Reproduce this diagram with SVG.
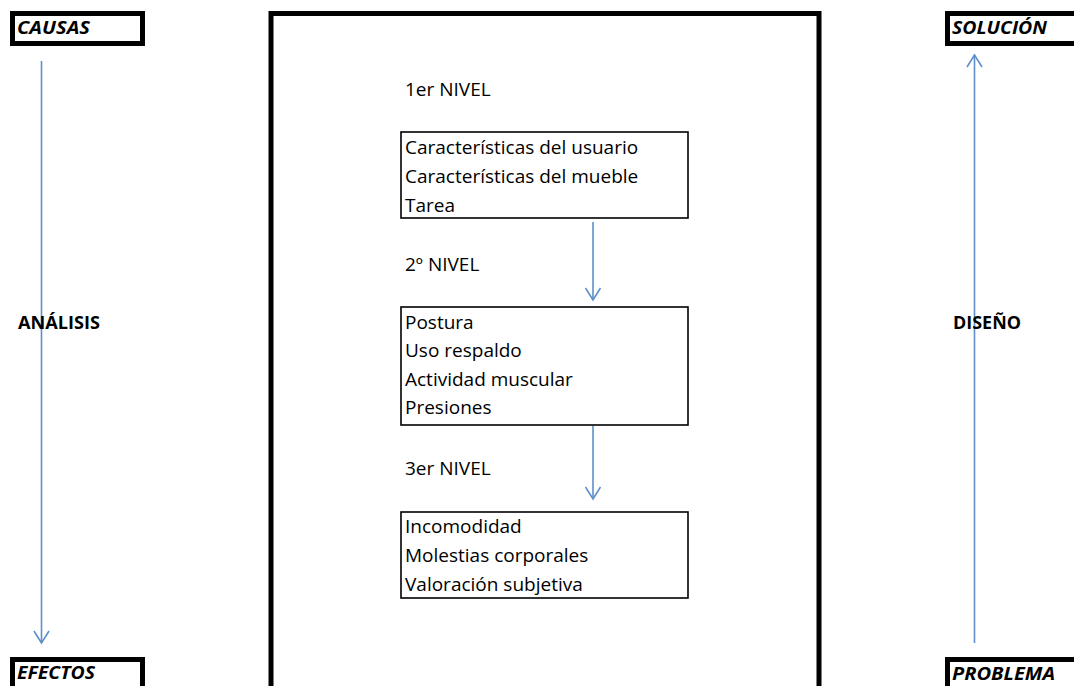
<svg xmlns="http://www.w3.org/2000/svg" width="1074" height="686" viewBox="0 0 1074 686">
  <style>
    .frame { fill: #ffffff; stroke: #000000; stroke-width: 5; }
    .box { fill: #ffffff; stroke: #000000; stroke-width: 1.6; }
    .tag { font-family: "Open Sans", "Liberation Sans", sans-serif; font-size: 18px; font-weight: bold; font-style: italic; fill: #000000; }
    .phase { font-family: "Open Sans", "Liberation Sans", sans-serif; font-size: 18px; font-weight: bold; fill: #000000; }
    .txt { font-family: "Open Sans", "Liberation Sans", sans-serif; font-size: 19px; fill: #000000; }
    .flow { fill: none; stroke: #5f8fcb; stroke-width: 1.6; }
  </style>
  <defs>
    <marker id="chevron" markerUnits="userSpaceOnUse" markerWidth="16" markerHeight="18" refX="13" refY="8" orient="auto" overflow="visible">
      <path d="M1,0.5 L13,8 L1,15.5" fill="none" stroke="#5f8fcb" stroke-width="1.6"/>
    </marker>
  </defs>

  <rect width="1074" height="686" fill="#ffffff"/>

  <!-- central frame -->
  <g id="frame">
    <rect class="frame" x="271" y="13.5" width="548" height="700"/>
  </g>

  <!-- corner labels -->
  <g id="causas">
    <rect class="frame" x="12.5" y="13.5" width="130" height="30"/>
    <text class="tag" x="17" y="34" textLength="73" lengthAdjust="spacingAndGlyphs">CAUSAS</text>
  </g>
  <g id="solucion">
    <rect class="frame" x="947.5" y="13.5" width="140" height="30"/>
    <text class="tag" x="952" y="34" textLength="95" lengthAdjust="spacingAndGlyphs">SOLUCIÓN</text>
  </g>
  <g id="efectos">
    <rect class="frame" x="12.5" y="659.5" width="130" height="40"/>
    <text class="tag" x="17" y="679" textLength="78" lengthAdjust="spacingAndGlyphs">EFECTOS</text>
  </g>
  <g id="problema">
    <rect class="frame" x="947.5" y="659.5" width="140" height="40"/>
    <text class="tag" x="952" y="680" textLength="103" lengthAdjust="spacingAndGlyphs">PROBLEMA</text>
  </g>

  <!-- flow connectors -->
  <g id="connectors">
    <line class="flow" x1="41.5" y1="61" x2="41.5" y2="643" marker-end="url(#chevron)"/>
    <line class="flow" x1="974.5" y1="643" x2="974.5" y2="55" marker-end="url(#chevron)"/>
    <line class="flow" x1="593" y1="222" x2="593" y2="300" marker-end="url(#chevron)"/>
    <line class="flow" x1="593" y1="426" x2="593" y2="499" marker-end="url(#chevron)"/>
  </g>

  <!-- phase labels -->
  <g id="analisis">
    <text class="phase" x="18" y="329" textLength="82" lengthAdjust="spacingAndGlyphs">ANÁLISIS</text>
  </g>
  <g id="diseno">
    <text class="phase" x="953" y="329" textLength="68" lengthAdjust="spacingAndGlyphs">DISEÑO</text>
  </g>

  <!-- level 1 -->
  <g id="nivel1">
    <text class="txt" x="405" y="96">1er NIVEL</text>
    <rect class="box" x="401" y="132" width="287" height="86"/>
    <text class="txt" x="405" y="154">Características del usuario</text>
    <text class="txt" x="405" y="183">Características del mueble</text>
    <text class="txt" x="405" y="212">Tarea</text>
  </g>

  <!-- level 2 -->
  <g id="nivel2">
    <text class="txt" x="405" y="271">2º NIVEL</text>
    <rect class="box" x="401" y="307" width="287" height="118"/>
    <text class="txt" x="405" y="329">Postura</text>
    <text class="txt" x="405" y="357">Uso respaldo</text>
    <text class="txt" x="405" y="386">Actividad muscular</text>
    <text class="txt" x="405" y="414">Presiones</text>
  </g>

  <!-- level 3 -->
  <g id="nivel3">
    <text class="txt" x="405" y="475">3er NIVEL</text>
    <rect class="box" x="401" y="512" width="287" height="86"/>
    <text class="txt" x="405" y="533">Incomodidad</text>
    <text class="txt" x="405" y="562">Molestias corporales</text>
    <text class="txt" x="405" y="591">Valoración subjetiva</text>
  </g>
</svg>
